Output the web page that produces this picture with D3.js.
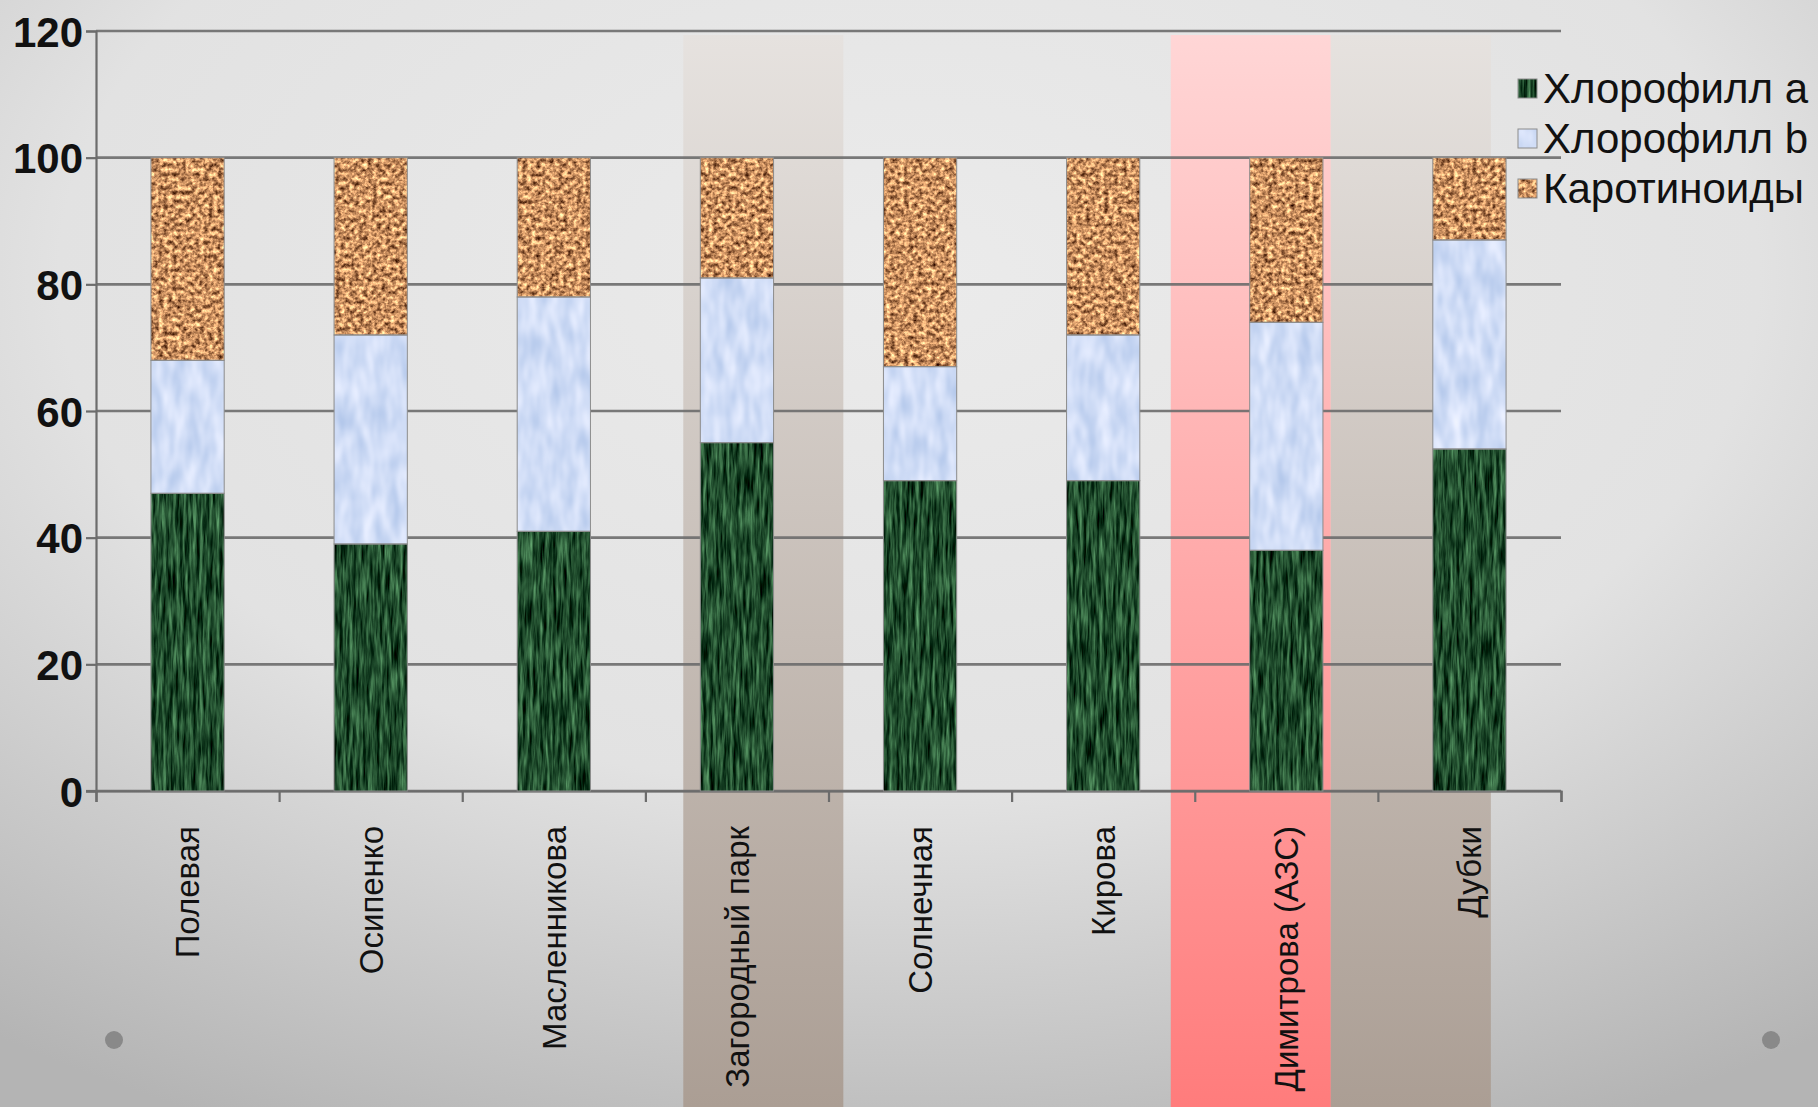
<!DOCTYPE html>
<html>
<head>
<meta charset="utf-8">
<script src="https://cdn.jsdelivr.net/npm/d3@7"></script>
<style>
  html, body { margin: 0; padding: 0; overflow: hidden; }
  svg { display: block; }
</style>
</head>
<body>
<svg id="chart" width="1818" height="1107"></svg>
<script>

// data (percent of total pigments)
var categories = ["Полевая", "Осипенко", "Масленникова", "Загородный парк", "Солнечная", "Кирова", "Димитрова (АЗС)", "Дубки"];
var chlA = [47, 39, 41, 55, 49, 49, 38, 54];
var chlB = [21, 33, 37, 26, 18, 23, 36, 33];
var carot = [32, 28, 22, 19, 33, 28, 26, 13];
var seriesNames = ["Хлорофилл a", "Хлорофилл b", "Каротиноиды"];
var yTicks = [0, 20, 40, 60, 80, 100, 120];

// highlighted stations (slide decoration behind the chart)
var highlighted = ["Загородный парк", "Димитрова (АЗС)", "Дубки"];

var W = 1818, H = 1107;
var svg = d3.select("#chart");
var defs = svg.append("defs");

// slide background
var bg = defs.append("radialGradient").attr("id", "bg")
    .attr("cx", "50%").attr("cy", "25%").attr("r", "85%")
    .attr("gradientUnits", "objectBoundingBox");
bg.append("stop").attr("offset", "0").attr("stop-color", "#ebebeb");
bg.append("stop").attr("offset", "0.55").attr("stop-color", "#e2e2e2");
bg.append("stop").attr("offset", "1").attr("stop-color", "#b4b4b4");
svg.append("rect").attr("width", W).attr("height", H).attr("fill", "url(#bg)");

var makeVGrad = function (id, top, bottom) {
    var g = defs.append("linearGradient").attr("id", id)
        .attr("x1", 0).attr("y1", 0).attr("x2", 0).attr("y2", 1);
    g.append("stop").attr("offset", "0").attr("stop-color", top);
    g.append("stop").attr("offset", "1").attr("stop-color", bottom);
};
makeVGrad("hlBrown", "#e6e2df", "#ab9e94");
makeVGrad("hlPink", "#ffd6d6", "#ff7c7c");

// noise textures for the bar fills (one noise channel -> colour ramp)
var makeTexture = function (id, freq, octaves, seed, matrix) {
    var f = defs.append("filter").attr("id", id)
        .attr("x", 0).attr("y", 0).attr("width", 1).attr("height", 1)
        .attr("color-interpolation-filters", "sRGB");
    f.append("feTurbulence").attr("type", "fractalNoise")
        .attr("baseFrequency", freq).attr("numOctaves", octaves)
        .attr("seed", seed).attr("result", "n");
    f.append("feColorMatrix").attr("in", "n").attr("type", "matrix")
        .attr("values", matrix).attr("result", "c");
    f.append("feComposite").attr("in", "c").attr("in2", "SourceGraphic").attr("operator", "in");
};
makeTexture("texGreen", "0.3 0.03", 3, 4,
    "0.64 0 0 0 -0.194  0.86 0 0 0 -0.131  0.64 0 0 0 -0.144  0 0 0 0 1");
makeTexture("texBlue", "0.08 0.03", 2, 7,
    "0.3 0 0 0 0.665  0.22 0 0 0 0.755  0.12 0 0 0 0.905  0 0 0 0 1");
makeTexture("texCork", "0.22", 3, 11,
    "1.5 0 0 0 0.05  1.3 0 0 0 -0.08  1.0 0 0 0 -0.12  0 0 0 0 1");

var textures = ["url(#texGreen)", "url(#texBlue)", "url(#texCork)"];
var swatchBase = ["#1f5a32", "#d2def7", "#c8905e"];

// scales
var x = d3.scaleBand().domain(categories).range([96, 1561]).paddingInner(0).paddingOuter(0);
var y = d3.scaleLinear().domain([0, 120]).range([791, 31]);
var bw = x.bandwidth();
var barW = bw * 0.4;

// highlight columns, offsets in band widths
var hlStyle = {
    "Загородный парк": {shift: 0.207, fill: "url(#hlBrown)"},
    "Димитрова (АЗС)": {shift: -0.131, fill: "url(#hlPink)"},
    "Дубки": {shift: -0.257, fill: "url(#hlBrown)"}
};
svg.append("g").selectAll("rect")
    .data(highlighted)
    .enter().append("rect")
    .attr("x", function (d) { return x(d) + hlStyle[d].shift * bw; })
    .attr("y", 35)
    .attr("width", bw * 0.874)
    .attr("height", H - 35)
    .attr("fill", function (d) { return hlStyle[d].fill; });

// gridlines
svg.append("g").selectAll("line")
    .data(yTicks)
    .enter().append("line")
    .attr("x1", 96).attr("x2", 1561)
    .attr("y1", function (d) { return y(d); })
    .attr("y2", function (d) { return y(d); })
    .attr("stroke", "#6c6c6c").attr("stroke-opacity", 0.9).attr("stroke-width", 2.6);

// y axis
var yAxis = svg.append("g").attr("transform", "translate(96,0)")
    .call(d3.axisLeft(y).tickValues(yTicks).tickSize(10).tickPadding(3));
yAxis.select(".domain").attr("stroke", "#6c6c6c").attr("stroke-width", 2.2);
yAxis.selectAll(".tick line").attr("stroke", "#6c6c6c").attr("stroke-width", 2.2);
yAxis.selectAll(".tick text")
    .attr("font-family", "Liberation Sans, Arial, sans-serif")
    .attr("font-weight", "bold").attr("font-size", 42).attr("fill", "#111")
    .attr("dy", "0.36em");

// x axis: line and ticks at category boundaries
var bounds = d3.scaleLinear().domain([0, categories.length]).range(x.range());
var xAxis = svg.append("g").attr("transform", "translate(0,791)")
    .call(d3.axisBottom(bounds).ticks(categories.length).tickSize(11).tickFormat(""));
xAxis.select(".domain").attr("stroke", "#6c6c6c").attr("stroke-width", 2.2);
xAxis.selectAll(".tick line").attr("stroke", "#6c6c6c").attr("stroke-width", 2.2);
svg.append("line").attr("x1", 86).attr("x2", 96).attr("y1", 791).attr("y2", 791)
    .attr("stroke", "#6c6c6c").attr("stroke-width", 2.2);

// stacked bars
var rows = categories.map(function (c, i) {
    return {cat: c, a: chlA[i], b: chlB[i], k: carot[i]};
});
var stack = d3.stack().keys(["a", "b", "k"])(rows);

var layers = svg.append("g").selectAll("g")
    .data(stack)
    .enter().append("g")
    .attr("filter", function (d, i) { return textures[i]; });
layers.selectAll("rect")
    .data(function (d) { return d; })
    .enter().append("rect")
    .attr("x", function (d) { return x(d.data.cat) + (bw - barW) / 2; })
    .attr("y", function (d) { return y(d[1]); })
    .attr("width", barW)
    .attr("height", function (d) { return y(d[0]) - y(d[1]); })
    .attr("fill", "#000");

// thin outline around each segment
svg.append("g").selectAll("g")
    .data(stack)
    .enter().append("g")
    .selectAll("rect")
    .data(function (d) { return d; })
    .enter().append("rect")
    .attr("x", function (d) { return x(d.data.cat) + (bw - barW) / 2; })
    .attr("y", function (d) { return y(d[1]); })
    .attr("width", barW)
    .attr("height", function (d) { return y(d[0]) - y(d[1]); })
    .attr("fill", "none").attr("stroke", "#8c8c8c").attr("stroke-width", 1);

// category labels, vertical
svg.append("g").selectAll("text")
    .data(categories)
    .enter().append("text")
    .attr("transform", function (d) { return "translate(" + (x(d) + bw / 2) + ",826) rotate(-90)"; })
    .attr("text-anchor", "end")
    .attr("dy", "0.36em")
    .attr("font-family", "Liberation Sans, Arial, sans-serif")
    .attr("font-size", 33).attr("fill", "#111")
    .text(function (d) { return d; });

// legend
var legend = svg.append("g").attr("transform", "translate(1518,79)");
var items = legend.selectAll("g")
    .data(seriesNames)
    .enter().append("g")
    .attr("transform", function (d, i) { return "translate(0," + (i * 50) + ")"; });
items.append("rect")
    .attr("width", 19).attr("height", 19)
    .attr("fill", function (d, i) { return swatchBase[i]; })
    .attr("filter", function (d, i) { return textures[i]; });
items.append("rect")
    .attr("width", 19).attr("height", 19)
    .attr("fill", "none").attr("stroke", "#8c8c8c").attr("stroke-width", 1);
items.append("text")
    .attr("x", 25).attr("y", 24)
    .attr("font-family", "Liberation Sans, Arial, sans-serif")
    .attr("font-size", 42).attr("fill", "#111")
    .text(function (d) { return d; });

// slide bullets
svg.append("g").selectAll("circle")
    .data([114, 1771])
    .enter().append("circle")
    .attr("cx", function (d) { return d; })
    .attr("cy", 1040).attr("r", 9)
    .attr("fill", "#898989");

</script>
</body>
</html>
